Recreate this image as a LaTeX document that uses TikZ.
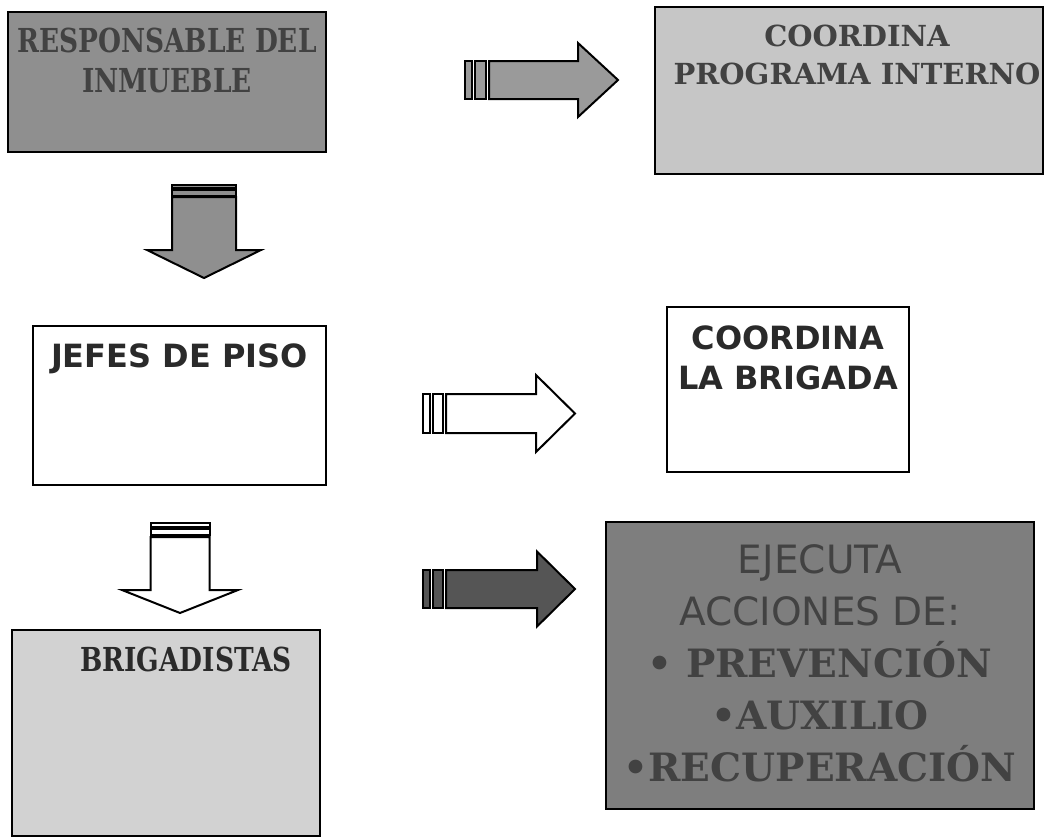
\documentclass[tikz,border=0pt]{standalone}
\usepackage{fontspec}
\setmainfont{DejaVu Serif}
\newfontfamily\boxsans{DejaVu Sans}
\newfontfamily\boxserif{DejaVu Serif}
\newfontfamily\boxnarrow[FakeStretch=0.8]{DejaVu Serif}
\usetikzlibrary{positioning}

\definecolor{respfill}{HTML}{8F8F8F}
\definecolor{progfill}{HTML}{C6C6C6}
\definecolor{brigfill}{HTML}{D2D2D2}
\definecolor{execfill}{HTML}{7E7E7E}
\definecolor{arrowgray}{HTML}{9A9A9A}
\definecolor{arrowdark}{HTML}{555555}
\definecolor{titledark}{HTML}{2A2A2A}
\definecolor{titlegray}{HTML}{424242}

\tikzset{
    plain-box/.style = {draw=black, line width=2pt, rectangle, inner sep=0pt},
    box-title/.style = {align=center, inner sep=0pt, font=\bfseries},
    arrow-body/.style = {draw=black, line width=2pt, line join=miter},
}

\newcommand{\stripedarrow}[6]{%
  \draw[arrow-body, fill=#1] (0,-#3) -- (#2,-#3) -- (#2,-#5) -- ({#2+#4},0) -- (#2,#5) -- (#2,#3) -- (0,#3) -- cycle;
  \draw[arrow-body, fill=#1] ({-0.58*#6},-#3) rectangle ({-0.12*#6},#3);
  \draw[arrow-body, fill=#1] (-#6,-#3) rectangle ({-0.71*#6},#3);
}

\begin{document}
\begin{tikzpicture}[x=1pt, y=-1pt]
\useasboundingbox (0,0) rectangle (1060,838);

\node[plain-box, fill=respfill, minimum width=318pt, minimum height=140pt] (resp) at (167,82) {};
\node[plain-box, fill=progfill, minimum width=388pt, minimum height=167pt] (prog) at (849,90.5) {};
\node[plain-box, fill=white, minimum width=293pt, minimum height=159pt] (jefes) at (179.5,405.5) {};
\node[plain-box, fill=white, minimum width=242pt, minimum height=165pt] (brig) at (788,389.5) {};
\node[plain-box, fill=brigfill, minimum width=308pt, minimum height=206pt] (briga) at (166,733) {};
\node[plain-box, fill=execfill, minimum width=428pt, minimum height=287pt] (exec) at (820,665.5) {};

\node[box-title, text=titlegray, font=\boxnarrow\bfseries\fontsize{33}{40}\selectfont, below=17pt of resp.north] (resp-text) {RESPONSABLE DEL\\INMUEBLE};
\node[box-title, text=titlegray, font=\boxserif\bfseries\fontsize{29}{38}\selectfont, below=19pt of prog.north, xshift=8pt] (prog-text) {COORDINA\\PROGRAMA INTERNO};
\node[box-title, text=titledark, font=\boxsans\bfseries\fontsize{32}{40}\selectfont, below=19pt of jefes.north] (jefes-text) {JEFES DE PISO};
\node[box-title, text=titledark, font=\boxsans\bfseries\fontsize{32}{40}\selectfont, below=20pt of brig.north] (brig-text) {COORDINA\\LA BRIGADA};
\node[box-title, text=titledark, font=\boxnarrow\bfseries\fontsize{33}{40}\selectfont, below=18pt of briga.north, xshift=20pt] (briga-text) {BRIGADISTAS};
\node[box-title, text=titlegray, font=\fontsize{39}{52}\selectfont, below=23pt of exec.north] (exec-text) {{\boxsans\mdseries EJECUTA}\\{\boxsans\mdseries ACCIONES DE:}\\{\boxserif\bfseries • PREVENCIÓN}\\{\boxserif\bfseries •AUXILIO}\\{\boxserif\bfseries •RECUPERACIÓN}};

\coordinate (to-prog) at (489,80);
\coordinate (to-jefes) at (204,197);
\coordinate (to-brig) at (446,413.5);
\coordinate (to-briga) at (180,537);
\coordinate (to-exec) at (446,589);

\begin{scope}[shift={(to-prog)}]
  \stripedarrow{arrowgray}{89}{19}{40}{37}{24}
\end{scope}
\begin{scope}[shift={(to-jefes)}, rotate=-90]
  \stripedarrow{respfill}{53}{32}{28}{57}{12}
\end{scope}
\begin{scope}[shift={(to-brig)}]
  \stripedarrow{white}{90}{19.5}{39}{38.5}{23}
\end{scope}
\begin{scope}[shift={(to-briga)}, rotate=-90]
  \stripedarrow{white}{53}{29.5}{23}{58}{14}
\end{scope}
\begin{scope}[shift={(to-exec)}]
  \stripedarrow{arrowdark}{91}{19}{38}{37.5}{23}
\end{scope}
\end{tikzpicture}
\end{document}
